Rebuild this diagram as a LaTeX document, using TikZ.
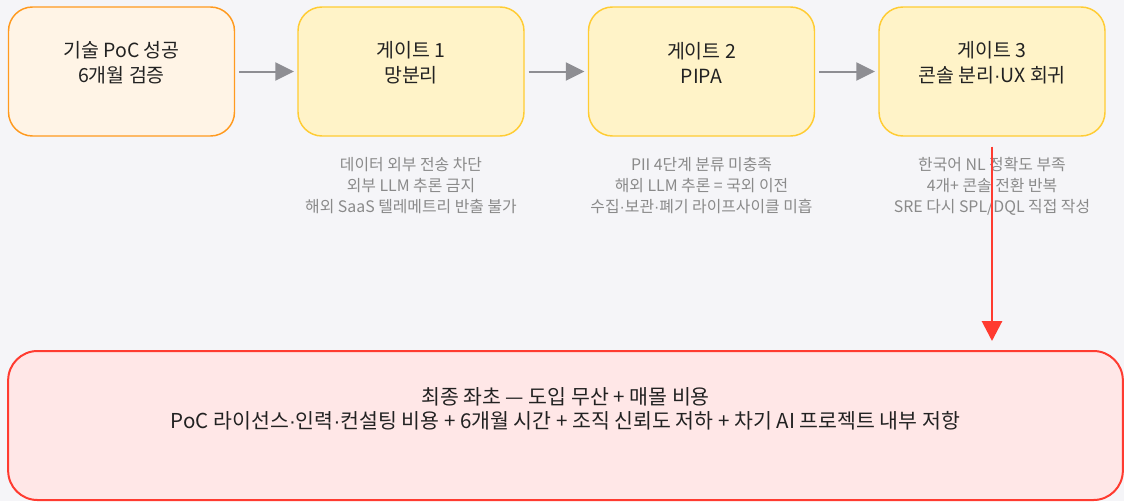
\documentclass[tikz,border=0pt]{standalone}
\usepackage{fontspec}
\setmainfont{Noto Sans CJK KR}
\newfontfamily\latinfont{Liberation Sans}
\newcommand{\mdot}{{\latinfont\textperiodcentered}}
\usetikzlibrary{arrows.meta,positioning}
\definecolor{bgcol}{HTML}{F5F5F8}
\definecolor{pocfill}{HTML}{FFF4E6}
\definecolor{pocdraw}{HTML}{FF9A1F}
\definecolor{gatefill}{HTML}{FFF3C8}
\definecolor{gatedraw}{HTML}{FFCC33}
\definecolor{failfill}{HTML}{FFE7E7}
\definecolor{faildraw}{HTML}{FF3B30}
\definecolor{txtcol}{HTML}{222222}
\definecolor{notecol}{HTML}{8A8A8A}
\definecolor{arrcol}{HTML}{8E8E93}
\tikzset{
  stagebox/.style={draw=gatedraw, fill=gatefill, line width=1.1pt, rounded corners=18pt,
    minimum width=169.5pt, minimum height=96.75pt},
  boxtext/.style={text=txtcol, align=center, font=\fontsize{14.6}{18.75}\selectfont},
  notetext/.style={text=notecol, align=center, font=\fontsize{11.9}{15.75}\selectfont},
  flow/.style={draw=arrcol, line width=1.5pt, shorten <=3pt, shorten >=2.5pt,
    -{Triangle[length=14pt, width=13.5pt]}},
}
\begin{document}
\begin{tikzpicture}[x=0.75pt, y=-0.75pt]
  \fill[bgcol] (0,0) rectangle (1124,501);
  \useasboundingbox (0,0) rectangle (1124,501);
  % top row
  \node[stagebox, draw=pocdraw, fill=pocfill] (poc) at (121.5,71.5) {};
  \node[stagebox] (gate1) at (411,71.5) {};
  \node[stagebox] (gate2) at (701.5,71.5) {};
  \node[stagebox] (gate3) at (992,71.5) {};
  \node[boxtext] (poc-t) at ([yshift=6.5pt]poc.center) {기술 PoC 성공\\6개월 검증};
  \node[boxtext] (gate1-t) at ([yshift=6.5pt]gate1.center) {게이트 1\\망분리};
  \node[boxtext] (gate2-t) at ([yshift=6.5pt]gate2.center) {게이트 2\\PIPA};
  \node[boxtext] (gate3-t) at ([yshift=6.5pt]gate3.center) {게이트 3\\콘솔 분리\mdot UX 회귀};
  \draw[flow] (poc) -- (gate1);
  \draw[flow] (gate1) -- (gate2);
  \draw[flow] (gate2) -- (gate3);
  % notes
  \node[notetext] (note1) at (411,186) {데이터 외부 전송 차단\\외부 LLM 추론 금지\\해외 SaaS 텔레메트리 반출 불가};
  \node[notetext] (note2) at (701.5,186) {PII 4단계 분류 미충족\\해외 LLM 추론 = 국외 이전\\수집\mdot 보관\mdot 폐기 라이프사이클 미흡};
  \node[notetext] (note3) at (992,186) {한국어 NL 정확도 부족\\4개+ 콘솔 전환 반복\\SRE 다시 SPL/DQL 직접 작성};
  % final
  \node[draw=faildraw, fill=failfill, line width=1.5pt, rounded corners=22pt,
    minimum width=836pt, minimum height=111.75pt] (fail) at (565.5,425.5) {};
  \node[boxtext, font=\fontsize{15.4}{18}\selectfont] (fail-t) at ([yshift=12.5pt]fail.center)
    {최종 좌초 — 도입 무산 + 매몰 비용\\PoC 라이선스\mdot 인력\mdot 컨설팅 비용 + 6개월 시간 + 조직 신뢰도 저하 + 차기 AI 프로젝트 내부 저항};
  \draw[draw=faildraw, line width=2.2pt, shorten <=7.5pt, shorten >=6.75pt,
    -{Triangle[length=15pt, width=15pt]}] (gate3.south) -- (gate3.south |- fail.north);
\end{tikzpicture}
\end{document}
